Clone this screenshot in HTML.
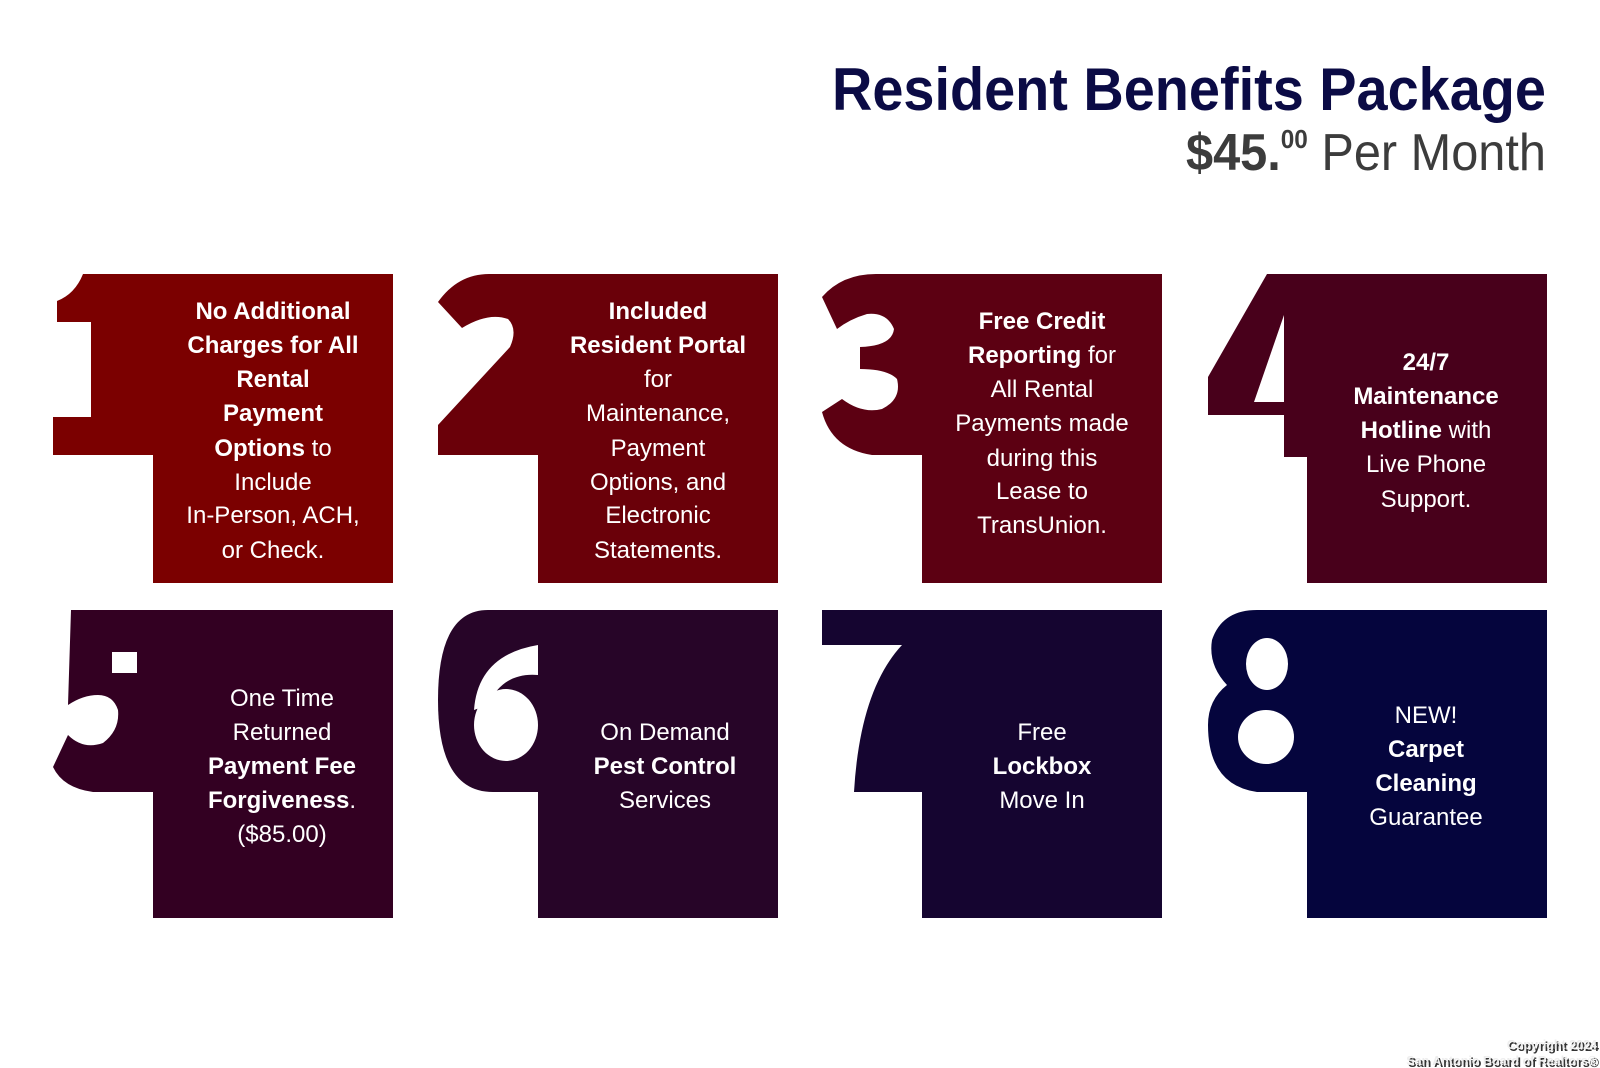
<!DOCTYPE html>
<html><head><meta charset="utf-8"><style>
html,body{margin:0;padding:0;background:#fff}
svg{display:block}
text{font-family:"Liberation Sans",sans-serif}
.t{fill:#fff;font-size:24px;text-anchor:middle}
.b{font-weight:bold}
</style></head><body>
<svg width="1600" height="1068" viewBox="0 0 1600 1068" xmlns="http://www.w3.org/2000/svg">
<rect width="1600" height="1068" fill="#fff"/>
<text x="1546" y="110" font-size="60" font-weight="bold" fill="#0b0b45" text-anchor="end" textLength="714" lengthAdjust="spacingAndGlyphs">Resident Benefits Package</text>
<text x="1546" y="170" font-size="52" fill="#3c3c3c" text-anchor="end" textLength="360" lengthAdjust="spacingAndGlyphs"><tspan font-weight="bold">$45.</tspan><tspan font-weight="bold" font-size="26" dy="-22">00</tspan><tspan dy="22"> Per Month</tspan></text>

<!-- Row 1 -->
<g fill="#7b0000" transform="translate(-1,0)">
<rect x="154" y="274" width="240" height="309"/>
<path d="M103,274 L154,274 L154,455 L54,455 L54,417 L92,417 L92,322 L58,322 L58,301 Q76,294 84,274 Z"/>
</g>
<g fill="#6a0009" transform="translate(-3,0)">
<rect x="541" y="274" width="240" height="309"/>
<path d="M492,274 L541,274 L541,455 L441,455 L441,425 L513,347 Q521,329 511,319 Q491,312 465,328 L441,302 Q461,274 492,274 Z"/>
</g>
<g fill="#5c0012" transform="translate(-1,0)">
<rect x="923" y="274" width="240" height="309"/>
<path d="M877,274 L923,274 L923,455 L873,455 Q833,449 823,412 L843,399 Q863,414 883,409 Q903,399 898,379 Q888,369 861,369 L861,347 Q893,346 895,329 Q888,312 868,314 Q851,319 838,329 L823,297 Q843,274 877,274 Z"/>
</g>
<g fill="#48001b" transform="translate(-2,0)">
<rect x="1309" y="274" width="240" height="309"/>
<path fill-rule="evenodd" d="M1269,274 L1309,274 L1309,457 L1286,457 L1286,415 L1210,415 L1210,377 Z M1286,315 L1286,402 L1256,402 Z"/>
</g>

<!-- Row 2 -->
<g fill="#330022" transform="translate(-1,0)">
<rect x="154" y="610" width="240" height="308"/>
<path d="M72,610 L154,610 L154,792 L94,792 Q64,788 54,767 L69,735 Q84,750 104,743 Q121,730 119,710 Q114,695 99,695 Q84,695 69,705 Z"/>
<rect x="113" y="652" width="25" height="21" fill="#fff"/>
</g>
<g fill="#270528" transform="translate(-3,0)">
<rect x="541" y="610" width="240" height="308"/>
<path d="M491,610 L541,610 L541,792 L496,792 Q441,792 441,700 Q441,610 491,610 Z"/>
<path fill="#fff" d="M541,645 L541,675 Q506,672 491,705 L477,710 Q481,655 541,645 Z"/>
<ellipse cx="509" cy="725" rx="32" ry="36" fill="#fff"/>
</g>
<g fill="#150530" transform="translate(-1,0)">
<rect x="923" y="610" width="240" height="308"/>
<path d="M823,610 L923,610 L923,792 L855,792 Q861,690 903,645 L823,645 Z"/>
</g>
<g fill="#05053d" transform="translate(-2,0)">
<rect x="1309" y="610" width="240" height="308"/>
<path d="M1259,610 L1309,610 L1309,792 L1259,792 Q1210,785 1210,725 Q1210,700 1229,685 Q1210,665 1214,640 Q1224,610 1259,610 Z"/>
<ellipse cx="1269" cy="664" rx="21" ry="26" fill="#fff"/>
<ellipse cx="1268" cy="737" rx="28" ry="27" fill="#fff"/>
</g>

<g class="t">
<text x="273" y="319" class="b">No Additional</text>
<text x="273" y="353" class="b">Charges for All</text>
<text x="273" y="387" class="b">Rental</text>
<text x="273" y="421" class="b">Payment</text>
<text x="273" y="456"><tspan class="b">Options</tspan> to</text>
<text x="273" y="490">Include</text>
<text x="273" y="523">In-Person, ACH,</text>
<text x="273" y="558">or Check.</text>
</g>
<g class="t">
<text x="658" y="319" class="b">Included</text>
<text x="658" y="353" class="b">Resident Portal</text>
<text x="658" y="387">for</text>
<text x="658" y="421">Maintenance,</text>
<text x="658" y="456">Payment</text>
<text x="658" y="490">Options, and</text>
<text x="658" y="523">Electronic</text>
<text x="658" y="558">Statements.</text>
</g>
<g class="t">
<text x="1042" y="329" class="b">Free Credit</text>
<text x="1042" y="363"><tspan class="b">Reporting</tspan> for</text>
<text x="1042" y="397">All Rental</text>
<text x="1042" y="431">Payments made</text>
<text x="1042" y="466">during this</text>
<text x="1042" y="499">Lease to</text>
<text x="1042" y="533">TransUnion.</text>
</g>
<g class="t">
<text x="1426" y="370" class="b">24/7</text>
<text x="1426" y="404" class="b">Maintenance</text>
<text x="1426" y="438"><tspan class="b">Hotline</tspan> with</text>
<text x="1426" y="472">Live Phone</text>
<text x="1426" y="507">Support.</text>
</g>
<g class="t">
<text x="282" y="706">One Time</text>
<text x="282" y="740">Returned</text>
<text x="282" y="774" class="b">Payment Fee</text>
<text x="282" y="808"><tspan class="b">Forgiveness</tspan>.</text>
<text x="282" y="842">($85.00)</text>
</g>
<g class="t">
<text x="665" y="740">On Demand</text>
<text x="665" y="774" class="b">Pest Control</text>
<text x="665" y="808">Services</text>
</g>
<g class="t">
<text x="1042" y="740">Free</text>
<text x="1042" y="774" class="b">Lockbox</text>
<text x="1042" y="808">Move In</text>
</g>
<g class="t">
<text x="1426" y="723">NEW!</text>
<text x="1426" y="757" class="b">Carpet</text>
<text x="1426" y="791" class="b">Cleaning</text>
<text x="1426" y="825">Guarantee</text>
</g>

<g font-size="12.5" font-weight="bold" text-anchor="end" fill="#eee" style="font-family:'DejaVu Sans',sans-serif">
<text x="1598" y="1050" fill="#333" dx="1" dy="1">Copyright 2024</text>
<text x="1598" y="1066" fill="#333" dx="1" dy="1">San Antonio Board of Realtors®</text>
<text x="1597" y="1049">Copyright 2024</text>
<text x="1597" y="1065">San Antonio Board of Realtors®</text>
</g>
</svg>
</body></html>
